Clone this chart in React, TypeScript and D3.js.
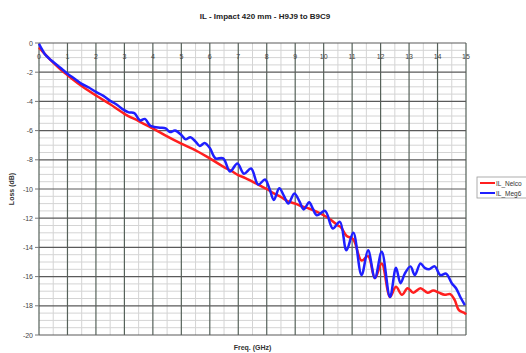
import { useEffect, useRef } from "react";
import * as d3 from "d3";

// ---- data ----
const chartTitle = "IL - Impact 420 mm - H9J9 to B9C9";
const xTicks = [0, 1, 2, 3, 4, 5, 6, 7, 8, 9, 10, 11, 12, 13, 14, 15];
const yTicks = [0, -2, -4, -6, -8, -10, -12, -14, -16, -18, -20];
const seriesNames = ["IL_Nelco", "IL_Meg6"];

// IL_Nelco (red)
const nelcoFreq = [
  0, 0.25, 0.5, 0.75, 1, 1.5, 2, 2.5, 3, 3.5, 4, 4.5, 5, 5.5, 6, 6.5, 6.75, 7, 7.25, 7.5,
  7.75, 8, 8.25, 8.5, 8.75, 9, 9.25, 9.5, 9.75, 10, 10.25, 10.5, 10.6, 10.8, 11.04, 11.33,
  11.56, 11.8, 12.04, 12.33, 12.54, 12.75, 12.95, 13.15, 13.4, 13.65, 13.85, 14.05, 14.25,
  14.45, 14.6, 14.75, 14.95, 15,
];
const nelcoLoss = [
  -0.3, -0.85, -1.35, -1.8, -2.2, -2.95, -3.6, -4.2, -4.85, -5.35, -5.85, -6.4, -6.9, -7.35,
  -7.9, -8.5, -8.75, -9.05, -9.25, -9.5, -9.75, -10.0, -10.3, -10.55, -10.85, -11.0, -11.2,
  -11.35, -11.55, -11.8, -12.1, -12.5, -12.6, -13.2, -13.45, -14.9, -14.6, -16.1, -15.1,
  -17.4, -16.7, -17.25, -16.8, -17.1, -16.8, -17.1, -16.95, -17.1, -17.25, -17.2, -17.6,
  -18.3, -18.5, -18.6,
];

// IL_Meg6 (blue)
const megFreq = [
  0, 0.08, 0.2, 0.35, 0.5, 0.75, 1, 1.25, 1.5, 1.75, 2, 2.25, 2.5, 2.75, 2.95, 3.15, 3.35,
  3.55, 3.72, 3.9, 4.05, 4.25, 4.45, 4.6, 4.78, 5.0, 5.15, 5.32, 5.5, 5.65, 5.82, 6.0, 6.2,
  6.47, 6.71, 6.97, 7.2, 7.45, 7.7, 7.94, 8.1, 8.25, 8.44, 8.6, 8.76, 8.97, 9.15, 9.3, 9.49,
  9.62, 9.76, 10.05, 10.32, 10.57, 10.8, 11.04, 11.33, 11.56, 11.8, 12.04, 12.33, 12.54,
  12.7, 12.85, 13.05, 13.2, 13.4, 13.55, 13.7, 13.9, 14.1, 14.3, 14.5, 14.65, 14.8, 14.96,
];
const megLoss = [
  -0.05, -0.35, -0.75, -1.05, -1.3, -1.7, -2.1, -2.45, -2.8, -3.05, -3.35, -3.6, -3.95,
  -4.25, -4.55, -4.75, -4.8, -5.3, -5.2, -5.65, -5.75, -5.8, -5.85, -6.1, -6.0, -6.3, -6.6,
  -6.45, -6.75, -7.05, -6.85, -7.2, -7.9, -7.9, -8.8, -8.25, -8.95, -8.6, -9.7, -9.35,
  -10.0, -10.75, -9.95, -10.45, -11.0, -10.3, -10.85, -11.4, -10.9, -11.35, -11.8, -11.5,
  -12.7, -12.25, -14.2, -13.0, -15.9, -14.2, -16.1, -14.3, -17.4, -15.4, -16.45, -15.8,
  -15.3, -15.9, -15.1, -15.4, -15.5, -15.3, -15.9, -15.8, -16.45, -16.8, -17.4, -17.95,
];

const seriesColors = ["#ff1f1f", "#1f1fff"];

export default function App() {
  const ref = useRef<SVGSVGElement>(null);

  useEffect(() => {
    const W = 526, H = 353;
    const svg = d3.select(ref.current);
    svg.selectAll("*").remove();
    svg.attr("width", W).attr("height", H);
    svg.append("rect").attr("width", W).attr("height", H).attr("fill", "#fff");

    const m = { left: 39, top: 43, right: 466, bottom: 335 };
    const x = d3.scaleLinear().domain([0, 15]).range([m.left, m.right]);
    const y = d3.scaleLinear().domain([-20, 0]).range([m.bottom, m.top]);
    const font = "'Liberation Sans', Arial, sans-serif";

    // minor grid
    const g = svg.append("g");
    g.selectAll(".vmin")
      .data(d3.range(0.5, 15, 1))
      .join("line")
      .attr("x1", d => x(d)).attr("x2", d => x(d))
      .attr("y1", m.top).attr("y2", m.bottom)
      .attr("stroke", "#d4d4d4").attr("stroke-width", 1);
    g.selectAll(".hmin")
      .data(d3.range(-19.5, 0, 0.5).filter(v => Math.abs(v % 2) > 0.01))
      .join("line")
      .attr("x1", m.left).attr("x2", m.right)
      .attr("y1", d => y(d)).attr("y2", d => y(d))
      .attr("stroke", "#d4d4d4").attr("stroke-width", 1);

    // major grid
    g.selectAll(".vmaj")
      .data(xTicks)
      .join("line")
      .attr("x1", d => x(d)).attr("x2", d => x(d))
      .attr("y1", m.top).attr("y2", m.bottom)
      .attr("stroke", "#56625a").attr("stroke-width", 1.2);
    g.selectAll(".hmaj")
      .data(yTicks)
      .join("line")
      .attr("x1", m.left).attr("x2", m.right)
      .attr("y1", d => y(d)).attr("y2", d => y(d))
      .attr("stroke", "#5a5a5a").attr("stroke-width", 1.2);
    // small ticks left of axis
    g.selectAll(".ytk")
      .data(yTicks)
      .join("line")
      .attr("x1", m.left - 4).attr("x2", m.left)
      .attr("y1", d => y(d)).attr("y2", d => y(d))
      .attr("stroke", "#777");

    // tick labels
    svg.append("g").selectAll("text")
      .data(xTicks)
      .join("text")
      .attr("x", d => x(d)).attr("y", 59)
      .attr("text-anchor", "middle")
      .attr("font-family", font).attr("font-size", 7).attr("fill", "#444")
      .text(d => d);
    svg.append("g").selectAll("text")
      .data(yTicks)
      .join("text")
      .attr("x", 33).attr("y", d => y(d) + 2.5)
      .attr("text-anchor", "end")
      .attr("font-family", font).attr("font-size", 7).attr("fill", "#444")
      .text(d => d);

    // lines
    const line = d3.line<[number, number]>()
      .x(d => x(d[0])).y(d => y(d[1]))
      .curve(d3.curveCatmullRom.alpha(0.5));
    const series: [number, number][][] = [
      nelcoFreq.map((f, i) => [f, nelcoLoss[i]]),
      megFreq.map((f, i) => [f, megLoss[i]]),
    ];
    series.forEach((pts, i) => {
      svg.append("path")
        .datum(pts)
        .attr("fill", "none")
        .attr("stroke", seriesColors[i])
        .attr("stroke-width", 2.5)
        .attr("stroke-linejoin", "round")
        .attr("d", line);
    });

    // titles
    svg.append("text")
      .attr("x", 265).attr("y", 19)
      .attr("text-anchor", "middle")
      .attr("font-family", font).attr("font-size", 8).attr("font-weight", "bold").attr("fill", "#222")
      .text(chartTitle);
    svg.append("text")
      .attr("x", (m.left + m.right) / 2).attr("y", 350)
      .attr("text-anchor", "middle")
      .attr("font-family", font).attr("font-size", 7).attr("font-weight", "bold").attr("fill", "#333")
      .text("Freq. (GHz)");
    svg.append("text")
      .attr("transform", `translate(14,${(m.top + m.bottom) / 2}) rotate(-90)`)
      .attr("text-anchor", "middle")
      .attr("font-family", font).attr("font-size", 7).attr("font-weight", "bold").attr("fill", "#333")
      .text("Loss (dB)");

    // legend (box runs past the right edge as in the reference)
    const lg = svg.append("g").attr("transform", "translate(477,177)");
    lg.append("rect").attr("width", 60).attr("height", 21)
      .attr("fill", "#fff").attr("stroke", "#999").attr("stroke-width", 0.8);
    seriesNames.forEach((name, i) => {
      lg.append("line")
        .attr("x1", 3).attr("x2", 18).attr("y1", 6 + i * 10).attr("y2", 6 + i * 10)
        .attr("stroke", seriesColors[i]).attr("stroke-width", 2);
      lg.append("text")
        .attr("x", 19).attr("y", 8.5 + i * 10)
        .attr("font-family", font).attr("font-size", 6.5).attr("fill", "#333")
        .text(name);
    });
  }, []);

  return (
    <div style={{ position: "absolute", left: 0, top: 0 }}>
      <svg ref={ref} style={{ display: "block" }} />
    </div>
  );
}
